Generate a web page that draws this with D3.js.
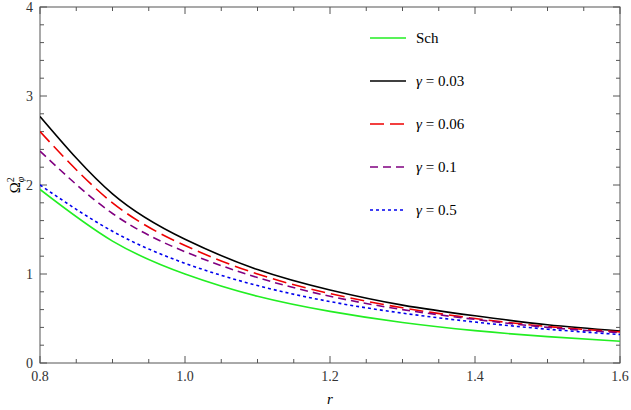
<!DOCTYPE html><html><head><meta charset="utf-8">
<script src="https://cdn.jsdelivr.net/npm/d3@7"></script>
<style>body{margin:0;background:#fff} text{font-family:"Liberation Serif","Times New Roman","DejaVu Serif",serif}</style></head><body><svg id="c" width="631" height="410"></svg>
<script>
const rVals=[0.8,0.9,1.0,1.1,1.2,1.3,1.4,1.5,1.6];
const sch=[1.95,1.37,1.0,0.75,0.58,0.455,0.364,0.296,0.244];
const g003=[2.77,1.9,1.39,1.05,0.82,0.65,0.53,0.43,0.36];
const g006=[2.6,1.8,1.32,1.0,0.78,0.62,0.5,0.41,0.35];
const g01=[2.38,1.68,1.25,0.96,0.75,0.6,0.49,0.4,0.34];
const g05=[2.0,1.48,1.12,0.87,0.69,0.56,0.46,0.38,0.32];
const labels=["Sch","γ = 0.03","γ = 0.06","γ = 0.1","γ = 0.5"];
const xTicks=[0.8,1.0,1.2,1.4,1.6], yTicks=[0,1,2,3,4];
const series=[
 {v:sch,c:"#22ee22",d:null},
 {v:g003,c:"#000",d:null},
 {v:g006,c:"#ee0000",d:"14,6"},
 {v:g01,c:"#800080",d:"8,5"},
 {v:g05,c:"#0000ee",d:"3,3"}];
const svg=d3.select("#c");
const L=40,R=620,T=7,B=363;
const x=d3.scaleLinear().domain([0.8,1.6]).range([L,R]);
const y=d3.scaleLinear().domain([0,4]).range([B,T]);
const g=svg.append("g");
g.append("rect").attr("x",L).attr("y",T).attr("width",R-L).attr("height",B-T).attr("fill","none").attr("stroke","#555").attr("stroke-width",1);
const xm=d3.range(0.8,1.6001,0.05), ym=d3.range(0,4.001,0.2);
xm.forEach((t,i)=>{const len=i%4==0?7:4;const px=x(t);
 g.append("line").attr("x1",px).attr("x2",px).attr("y1",B).attr("y2",B-len).attr("stroke","#555");
 g.append("line").attr("x1",px).attr("x2",px).attr("y1",T).attr("y2",T+len).attr("stroke","#555");});
ym.forEach((t,i)=>{const len=i%5==0?7:4;const py=y(t);
 g.append("line").attr("x1",L).attr("x2",L+len).attr("y1",py).attr("y2",py).attr("stroke","#555");
 g.append("line").attr("x1",R).attr("x2",R-len).attr("y1",py).attr("y2",py).attr("stroke","#555");});
xTicks.forEach(t=>g.append("text").attr("x",x(t)).attr("y",B+18).attr("text-anchor","middle").attr("font-size",14).attr("fill","#333").text(t.toFixed(1)));
yTicks.forEach(t=>g.append("text").attr("x",L-7).attr("y",y(t)+5).attr("text-anchor","end").attr("font-size",14).attr("fill","#333").text(t));
g.append("text").attr("x",(L+R)/2).attr("y",404).attr("text-anchor","middle").attr("font-style","italic").attr("font-size",15).text("r");
const yl=g.append("text").attr("transform","translate(20,185) rotate(-90)").attr("text-anchor","middle").attr("font-size",15);
yl.append("tspan").text("Ω");
yl.append("tspan").attr("dy",-6).attr("font-size",10).text("2");
yl.append("tspan").attr("dy",10).attr("dx",-5).attr("font-size",10).attr("font-style","italic").text("φ");
const line=d3.line().x((d,i)=>x(rVals[i])).y(d=>y(d)).curve(d3.curveNatural);
g.append("defs").append("clipPath").attr("id","cl").append("rect").attr("x",L).attr("y",T).attr("width",R-L).attr("height",B-T);
series.forEach(s=>g.append("path").attr("d",line(s.v)).attr("fill","none").attr("stroke",s.c).attr("stroke-width",1.6).attr("stroke-dasharray",s.d).attr("clip-path","url(#cl)"));
const ly=[38,81,124,167,210];
series.forEach((s,i)=>{
 g.append("line").attr("x1",370).attr("x2",406).attr("y1",ly[i]).attr("y2",ly[i]).attr("stroke",s.c).attr("stroke-width",1.6).attr("stroke-dasharray",s.d);
 const t=g.append("text").attr("x",416).attr("y",ly[i]+5).attr("font-size",15);
 if(i==0)t.text(labels[i]);else{const p=labels[i].split(" = ");t.append("tspan").attr("font-style","italic").text(p[0]);t.append("tspan").text(" = "+p[1]);}
});
</script></body></html>
